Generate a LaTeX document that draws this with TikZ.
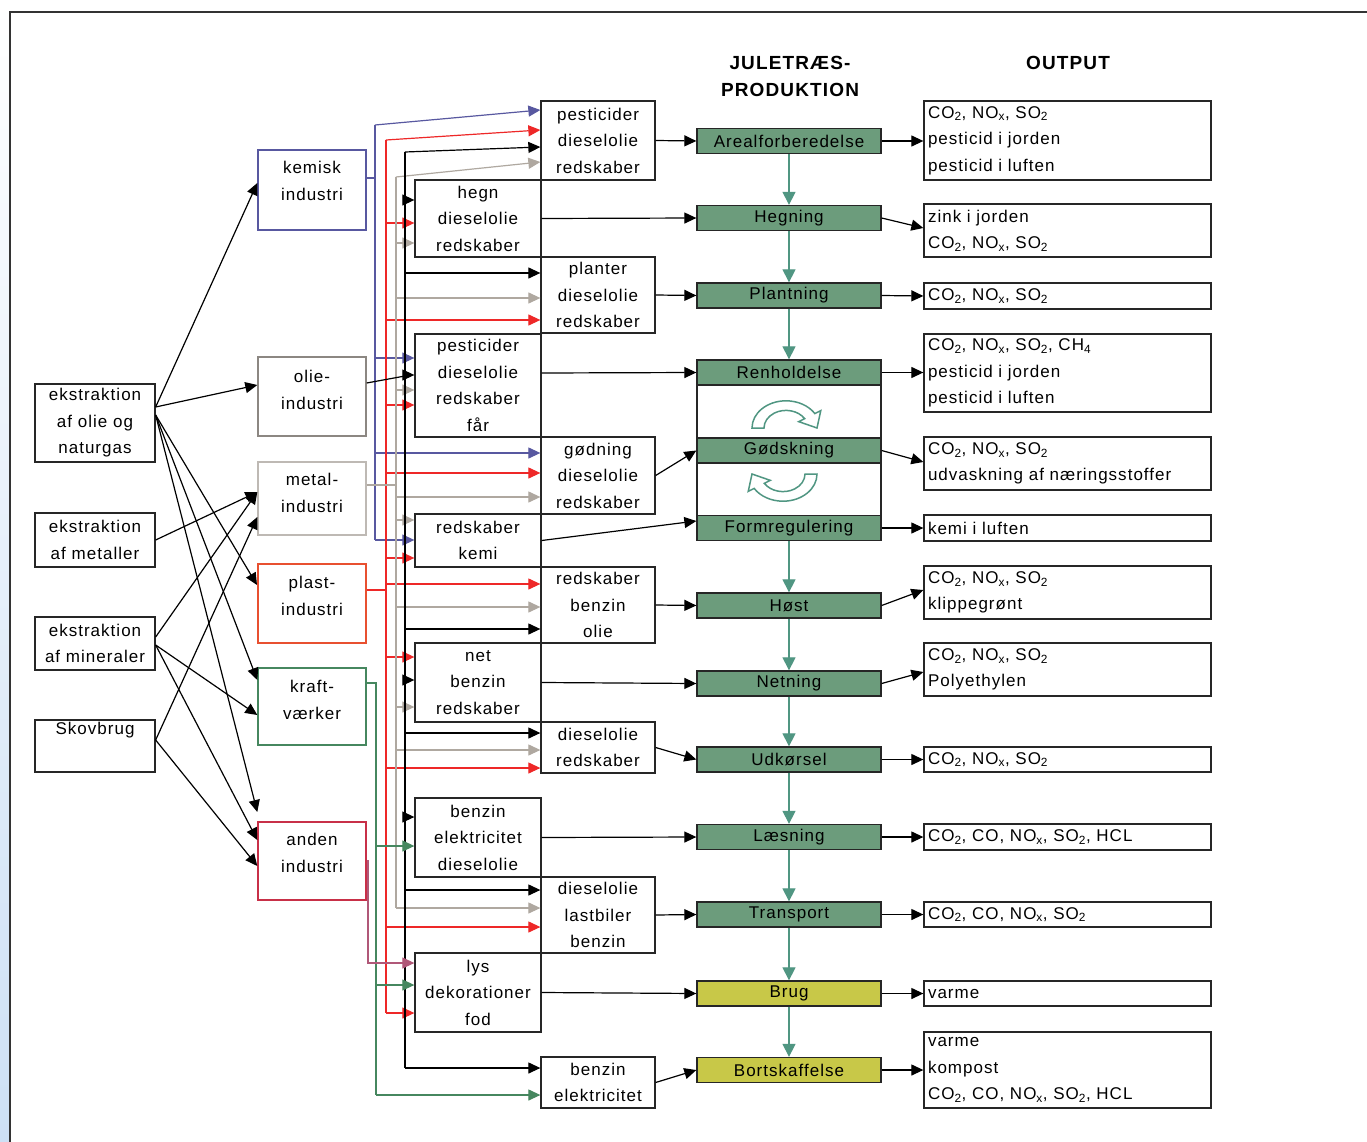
\documentclass[tikz,border=0pt]{standalone}
\usepackage{fontspec}
\setmainfont{Liberation Sans}[LetterSpace=6]
\usetikzlibrary{arrows.meta,calc}
\definecolor{busblue}{RGB}{88,88,160}
\definecolor{busred}{RGB}{238,40,40}
\definecolor{busgray}{RGB}{175,168,160}
\definecolor{busgreen}{RGB}{70,135,95}
\definecolor{busmauve}{RGB}{176,88,120}
\definecolor{procgreen}{RGB}{108,156,124}
\definecolor{procyellow}{RGB}{200,200,72}
\definecolor{plastred}{RGB}{232,80,48}
\definecolor{andenred}{RGB}{200,48,72}
\definecolor{oliegray}{RGB}{140,135,130}
\definecolor{metalgray}{RGB}{190,185,180}
\definecolor{cyclegreen}{RGB}{80,150,130}
\definecolor{leftblue}{RGB}{205,224,245}
\newcommand{\myCO}{CO\textsubscript{2}}
\newcommand{\myNO}{NO\textsubscript{x}}
\newcommand{\mySO}{SO\textsubscript{2}}
\newcommand{\myCH}{CH\textsubscript{4}}
\tikzset{
  txt/.style={font=\fontsize{17}{26.5}\selectfont, align=center, inner sep=0pt},
  bx/.style={txt, draw=black!85, line width=1.3pt},
  ibx/.style={draw=#1, line width=1.4pt, minimum width=108pt, inner sep=0pt},
  srcbx/.style={bx, minimum width=120pt},
  abx/.style={bx, minimum width=114pt},
  bbx/.style={bx, minimum width=126pt},
  proc/.style={bx, fill=#1, minimum width=184pt, minimum height=25pt},
  obx/.style={txt, draw=black!85, line width=1.3pt, align=left, text width=279pt, inner xsep=4pt},
  conn/.style={line width=1.2pt, -{Triangle[length=12pt,width=11pt]}},
  bus/.style={line width=1.2pt},
  parr/.style={line width=1.2pt, draw=cyclegreen, -{Triangle[length=13pt,width=13pt]}},
  cyc/.style={draw=cyclegreen, fill=white, line width=1.5pt},
  ttl/.style={font=\fontsize{19}{27}\selectfont\bfseries, align=center, inner sep=0pt}
}
\begin{document}
\begin{tikzpicture}[x=1pt,y=-1pt]
\useasboundingbox (0,0) rectangle (1367,1142);
\fill[white] (0,0) rectangle (1367,1142);
\shade[top color=white, bottom color=leftblue] (0,0) rectangle (9,1142);
\draw[line width=2pt, black!80] (1367,12) -- (10,12) -- (10,1142);

% titles
\node[ttl] (ttlA) at (790,76.5) {JULETRÆS-\\PRODUKTION};
\node[ttl] (ttlB) at (1068,63) {OUTPUT};

% source boxes
\node[srcbx, minimum height=78pt] (src1) at (95,423) {ekstraktion\\af olie og\\naturgas};
\node[srcbx, minimum height=54pt] (src2) at (95,540) {ekstraktion\\af metaller};
\node[srcbx, minimum height=53pt] (src3) at (95,643.5) {ekstraktion\\af mineraler};
\node[srcbx, minimum height=52pt] (src4) at (95,746) {Skovbrug\\\strut};

% industry boxes
\node[ibx=busblue, minimum height=80pt] (kem) at (312,190) {};
\node[txt] (kemT) at (312,181) {kemisk\\industri};
\node[ibx=oliegray, minimum height=79pt] (olie) at (312,396.5) {};
\node[txt] (olieT) at (312,390) {olie-\\industri};
\node[ibx=metalgray, minimum height=73pt] (metal) at (312,498.5) {};
\node[txt] (metalT) at (312,493) {metal-\\industri};
\node[ibx=plastred, minimum height=79pt, line width=2pt] (plast) at (312,603.5) {};
\node[txt] (plastT) at (312,596) {plast-\\industri};
\node[ibx=busgreen, minimum height=77pt] (kraft) at (312,706.5) {};
\node[txt] (kraftT) at (312,700) {kraft-\\værker};
\node[ibx=andenred, minimum height=78pt] (anden) at (312,861) {};
\node[txt] (andenT) at (312,853) {anden\\industri};

% source -> industry
\draw[conn] (src1.east |- 0,407) -- (kem.west |- 0,183);
\draw[conn] (src1.east |- 0,407) -- (olie.west |- 0,385);
\draw[conn] (src1.east |- 0,415) -- (plast.west |- 0,585);
\draw[conn] (src1.east |- 0,415) -- (kraft.west |- 0,680);
\draw[conn] (src1.east |- 0,415) -- (anden.west |- 0,812);
\draw[conn] (src2.east) -- (metal.west |- 0,492);
\draw[conn] (src3.east |- 0,637) -- (metal.west |- 0,492);
\draw[conn] (src3.east |- 0,645) -- (kraft.west |- 0,715);
\draw[conn] (src3.east |- 0,645) -- (anden.west |- 0,840);
\draw[conn] (src4.east |- 0,740) -- (metal.west |- 0,517);
\draw[conn] (src4.east |- 0,740) -- (anden.west |- 0,866);

% B boxes (left column of inputs)
\node[bbx, minimum height=77pt] (B2) at (478,218.5) {hegn\\dieselolie\\redskaber};
\node[bbx, minimum height=103pt] (B4) at (478,385.5) {pesticider\\dieselolie\\redskaber\\får};
\node[bbx, minimum height=53pt] (B6) at (478,540.5) {redskaber\\kemi};
\node[bbx, minimum height=79pt] (B8) at (478,682.5) {net\\benzin\\redskaber};
\node[bbx, minimum height=79pt] (B10) at (478,837.5) {benzin\\elektricitet\\dieselolie};
\node[bbx, minimum height=79pt] (B12) at (478,992.5) {lys\\dekorationer\\fod};
% A boxes (right column of inputs)
\node[abx, minimum height=79pt] (A1) at (598,140.5) {pesticider\\dieselolie\\redskaber};
\node[abx, minimum height=76pt] (A3) at (598,295) {planter\\dieselolie\\redskaber};
\node[abx, minimum height=77pt] (A5) at (598,475.5) {gødning\\dieselolie\\redskaber};
\node[abx, minimum height=76pt] (A7) at (598,605) {redskaber\\benzin\\olie};
\node[abx, minimum height=51pt] (A9) at (598,747.5) {dieselolie\\redskaber};
\node[abx, minimum height=76pt] (A11) at (598,915) {dieselolie\\lastbiler\\benzin};
\node[abx, minimum height=51pt] (A13) at (598,1082.5) {benzin\\elektricitet};

% blue bus (kemisk industri)
\draw[bus, busblue] (kem.east |- 0,178) -- (375,178);
\draw[bus, busblue] (375,125) -- (375,540);
\draw[conn, busblue] (375,125) -- (A1.west |- 0,110);
\draw[conn, busblue] (375,358) -- (B4.west |- 0,358);
\draw[conn, busblue] (375,453) -- (A5.west |- 0,453);
\draw[conn, busblue] (375,540) -- (B6.west |- 0,540);

% red bus (plastindustri)
\draw[bus, busred] (plast.east |- 0,590) -- (386,590);
\draw[bus, busred] (386,140) -- (386,1013);
\draw[conn, busred] (386,140) -- (A1.west |- 0,130);
\draw[conn, busred] (386,223) -- (B2.west |- 0,223);
\draw[conn, busred] (386,320) -- (A3.west |- 0,320);
\draw[conn, busred] (386,405) -- (B4.west |- 0,405);
\draw[conn, busred] (386,473) -- (A5.west |- 0,473);
\draw[conn, busred] (386,558) -- (B6.west |- 0,558);
\draw[conn, busred] (386,584) -- (A7.west |- 0,584);
\draw[conn, busred] (386,657) -- (B8.west |- 0,657);
\draw[conn, busred] (386,768) -- (A9.west |- 0,768);
\draw[conn, busred] (386,927) -- (A11.west |- 0,927);
\draw[conn, busred] (386,1013) -- (B12.west |- 0,1013);

% gray bus (metalindustri)
\draw[bus, busgray] (metal.east |- 0,485) -- (396,485);
\draw[bus, busgray] (396,177) -- (396,908);
\draw[conn, busgray] (396,177) -- (A1.west |- 0,162);
\draw[conn, busgray] (396,243) -- (B2.west |- 0,243);
\draw[conn, busgray] (396,298) -- (A3.west |- 0,298);
\draw[conn, busgray] (396,390) -- (B4.west |- 0,390);
\draw[conn, busgray] (396,497) -- (A5.west |- 0,497);
\draw[conn, busgray] (396,520) -- (B6.west |- 0,520);
\draw[conn, busgray] (396,607) -- (A7.west |- 0,607);
\draw[conn, busgray] (396,707) -- (B8.west |- 0,707);
\draw[conn, busgray] (396,750) -- (A9.west |- 0,750);
\draw[conn, busgray] (396,908) -- (A11.west |- 0,908);

% black bus (olieindustri)
\draw[bus, black] (olie.east |- 0,383) -- (405,376);
\draw[bus, black] (405,152) -- (405,1068);
\draw[conn, black] (405,152) -- (A1.west |- 0,147);
\draw[conn, black] (405,200) -- (B2.west |- 0,200);
\draw[conn, black] (405,273) -- (A3.west |- 0,273);
\draw[conn, black] (405,375) -- (B4.west |- 0,375);
\draw[conn, black] (405,629) -- (A7.west |- 0,629);
\draw[conn, black] (405,680) -- (B8.west |- 0,680);
\draw[conn, black] (405,733) -- (A9.west |- 0,733);
\draw[conn, black] (405,817) -- (B10.west |- 0,817);
\draw[conn, black] (405,890) -- (A11.west |- 0,890);
\draw[conn, black] (405,1068) -- (A13.west |- 0,1068);

% green bus (kraftvaerker)
\draw[bus, busgreen] (kraft.east |- 0,683) -- (376,683) -- (376,1095);
\draw[conn, busgreen] (376,846) -- (B10.west |- 0,846);
\draw[conn, busgreen] (376,985) -- (B12.west |- 0,985);
\draw[conn, busgreen] (376,1095) -- (A13.west |- 0,1095);

% mauve (anden industri)
\draw[conn, busmauve] (anden.east) -- (368,861) -- (368,963) -- (B12.west |- 0,963);

% process column
\node[draw=black!85, line width=1.3pt, minimum width=184pt, minimum height=180pt, inner sep=0pt] (cycbox) at (789,450) {};
\node[proc=procgreen] (P1) at (789,141) {Arealforberedelse};
\node[proc=procgreen] (P2) at (789,218) {Hegning};
\node[proc=procgreen] (P3) at (789,295.5) {Plantning};
\node[proc=procgreen] (P4) at (789,372.5) {Renholdelse};
\node[proc=procgreen] (P5) at (789,450.5) {Gødskning};
\node[proc=procgreen] (P6) at (789,528) {Formregulering};
\node[proc=procgreen] (P7) at (789,605.5) {Høst};
\node[proc=procgreen] (P8) at (789,683.5) {Netning};
\node[proc=procgreen] (P9) at (789,759.5) {Udkørsel};
\node[proc=procgreen] (P10) at (789,837) {Læsning};
\node[proc=procgreen] (P11) at (789,914.5) {Transport};
\node[proc=procyellow] (P12) at (789,993.5) {Brug};
\node[proc=procyellow] (P13) at (789,1070) {Bortskaffelse};

% cycle arrows
\begin{scope}[shift={(786,428)}, yscale=0.8]
\filldraw[cyc] (180:34) arc[start angle=180, end angle=328, radius=34] -- (328:41) -- (31,0) -- (328:15) -- (328:22) arc[start angle=328, end angle=180, radius=22] -- cycle;
\end{scope}
\begin{scope}[shift={(783,474)}, yscale=0.8, rotate=180]
\filldraw[cyc] (180:34) arc[start angle=180, end angle=328, radius=34] -- (328:41) -- (31,0) -- (328:15) -- (328:22) arc[start angle=328, end angle=180, radius=22] -- cycle;
\end{scope}

% process flow
\draw[parr] (P1.south) -- (P2.north);
\draw[parr] (P2.south) -- (P3.north);
\draw[parr] (P3.south) -- (P4.north);
\draw[parr] (P6.south) -- (P7.north);
\draw[parr] (P7.south) -- (P8.north);
\draw[parr] (P8.south) -- (P9.north);
\draw[parr] (P9.south) -- (P10.north);
\draw[parr] (P10.south) -- (P11.north);
\draw[parr] (P11.south) -- (P12.north);
\draw[parr] (P12.south) -- (P13.north);

% inputs -> processes
\draw[conn] (A1.east) -- (P1.west);
\draw[conn] (B2.east) -- (P2.west);
\draw[conn] (A3.east) -- (P3.west);
\draw[conn] (B4.east |- 0,373) -- (P4.west);
\draw[conn] (A5.east) -- (P5.west);
\draw[conn] (B6.east) -- (P6.west |- 0,521);
\draw[conn] (A7.east) -- (P7.west);
\draw[conn] (B8.east) -- (P8.west);
\draw[conn] (A9.east) -- (P9.west);
\draw[conn] (B10.east) -- (P10.west);
\draw[conn] (A11.east) -- (P11.west);
\draw[conn] (B12.east) -- (P12.west);
\draw[conn] (A13.east) -- (P13.west);

% output boxes
\node[obx, minimum height=79pt] (O1) at (1067.5,140.5) {\myCO, \myNO, \mySO\\pesticid i jorden\\pesticid i luften};
\node[obx, minimum height=53pt] (O2) at (1067.5,230.5) {zink i jorden\\\myCO, \myNO, \mySO};
\node[obx, minimum height=26pt] (O3) at (1067.5,296) {\myCO, \myNO, \mySO};
\node[obx, minimum height=78pt] (O4) at (1067.5,373) {\myCO, \myNO, \mySO, \myCH\\pesticid i jorden\\pesticid i luften};
\node[obx, minimum height=53pt] (O5) at (1067.5,463.5) {\myCO, \myNO, \mySO\\udvaskning af næringsstoffer};
\node[obx, minimum height=26pt] (O6) at (1067.5,528) {kemi i luften};
\node[obx, minimum height=53pt] (O7) at (1067.5,592.5) {\myCO, \myNO, \mySO\\klippegrønt};
\node[obx, minimum height=53pt] (O8) at (1067.5,669.5) {\myCO, \myNO, \mySO\\Polyethylen};
\node[obx, minimum height=25pt] (O9) at (1067.5,759.5) {\myCO, \myNO, \mySO};
\node[obx, minimum height=26pt] (O10) at (1067.5,837) {\myCO, CO, \myNO, \mySO, HCL};
\node[obx, minimum height=25pt] (O11) at (1067.5,914.5) {\myCO, CO, \myNO, \mySO};
\node[obx, minimum height=25pt] (O12) at (1067.5,993.5) {varme};
\node[obx, minimum height=76pt] (O13) at (1067.5,1070) {varme\\kompost\\\myCO, CO, \myNO, \mySO, HCL};

% processes -> outputs
\draw[conn] (P1.east) -- (O1.west |- 0,141);
\draw[conn] (P2.east) -- (O2.west |- 0,228);
\draw[conn] (P3.east) -- (O3.west);
\draw[conn] (P4.east) -- (O4.west |- 0,372.5);
\draw[conn] (P5.east) -- (O5.west |- 0,462);
\draw[conn] (P6.east) -- (O6.west);
\draw[conn] (P7.east) -- (O7.west |- 0,590);
\draw[conn] (P8.east) -- (O8.west |- 0,672);
\draw[conn] (P9.east) -- (O9.west);
\draw[conn] (P10.east) -- (O10.west);
\draw[conn] (P11.east) -- (O11.west);
\draw[conn] (P12.east) -- (O12.west);
\draw[conn] (P13.east) -- (O13.west);
\end{tikzpicture}
\end{document}
